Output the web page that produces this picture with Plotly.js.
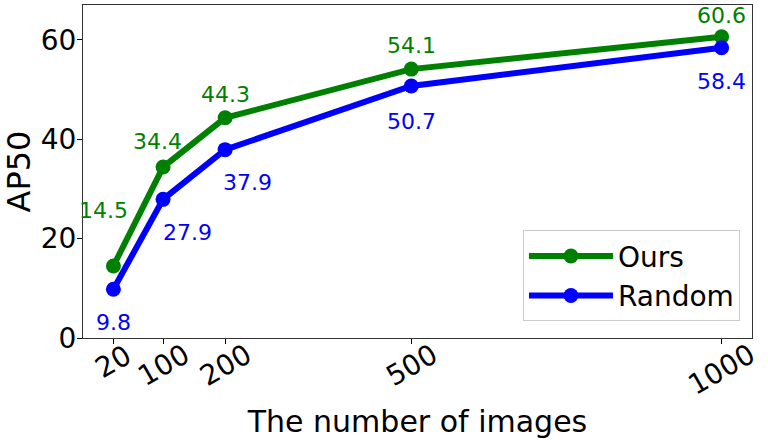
<!DOCTYPE html>
<html>
<head>
<meta charset="utf-8">
<script src="https://cdn.plot.ly/plotly-3.0.1.min.js"></script>
<style>
  body { margin: 0; background: #fff; }
  #chart { width: 768px; height: 447px; }
</style>
</head>
<body>
<div id="chart"></div>
<script>
// number of images
const numImages = [20, 100, 200, 500, 1000];
const tickLabels = ['20', '100', '200', '500', '1000'];
// AP50 per method
const oursAP = [14.5, 34.4, 44.3, 54.1, 60.6];
const randomAP = [9.8, 27.9, 37.9, 50.7, 58.4];

// label offsets in px (x, y) relative to each point
const oursShift = [[-10, 55], [-6, 26], [0, 23], [0, 24], [0, 21]];
const randomShift = [[0, -33], [24, -33], [22, -33], [0, -35], [0, -34]];

const font = 'DejaVu Sans, sans-serif';

const traceOurs = {
    x: numImages,
    y: oursAP,
    name: 'Ours',
    mode: 'lines+markers',
    line: { color: '#008000', width: 6 },
    marker: { color: '#008000', size: 15 }
};

const traceRandom = {
    x: numImages,
    y: randomAP,
    name: 'Random',
    mode: 'lines+markers',
    line: { color: '#0000ff', width: 6 },
    marker: { color: '#0000ff', size: 15 }
};

const annotations = [];
numImages.forEach((n, i) => {
    annotations.push({
        x: n, y: oursAP[i], xref: 'x', yref: 'y',
        text: oursAP[i].toFixed(1), showarrow: false,
        xshift: oursShift[i][0], yshift: oursShift[i][1],
        font: { family: font, size: 22, color: '#008000' }
    });
    annotations.push({
        x: n, y: randomAP[i], xref: 'x', yref: 'y',
        text: randomAP[i].toFixed(1), showarrow: false,
        xshift: randomShift[i][0], yshift: randomShift[i][1],
        font: { family: font, size: 22, color: '#0000ff' }
    });
    // rotated tick labels, centred under the tick like matplotlib
    annotations.push({
        x: n, y: 0, xref: 'x', yref: 'paper',
        text: tickLabels[i], showarrow: false, textangle: -30,
        xanchor: 'center', yanchor: 'top', yshift: 3,
        font: { family: font, size: 28, color: '#000' }
    });
});

const layout = {
    width: 768,
    height: 447,
    margin: { l: 83, r: 16, t: 5, b: 109 },
    paper_bgcolor: '#fff',
    plot_bgcolor: '#fff',
    font: { family: font, color: '#000' },
    showlegend: true,
    legend: {
        x: 0.982, xanchor: 'right', y: 0.05, yanchor: 'bottom',
        bgcolor: '#fff', bordercolor: '#cccccc', borderwidth: 1,
        font: { family: font, size: 28 },
        itemwidth: 84
    },
    xaxis: {
        range: [-29, 1049],
        tickvals: numImages,
        showticklabels: false,
        ticks: 'outside', ticklen: 5, tickcolor: '#000',
        showgrid: false, zeroline: false,
        showline: true, linecolor: '#333', linewidth: 1, mirror: true,
        title: { text: 'The number of images', font: { family: font, size: 30 }, standoff: 67 }
    },
    yaxis: {
        range: [0, 67],
        tickvals: [0, 20, 40, 60],
        ticks: 'outside', ticklen: 5, tickcolor: '#000',
        ticklabelstandoff: -5,
        tickfont: { family: font, size: 28 },
        showgrid: false, zeroline: false,
        showline: true, linecolor: '#333', linewidth: 1, mirror: true,
        title: { text: 'AP50', font: { family: font, size: 32 }, standoff: 12 }
    },
    annotations: annotations
};

Plotly.newPlot('chart', [traceOurs, traceRandom], layout, { displayModeBar: false });
</script>
</body>
</html>
